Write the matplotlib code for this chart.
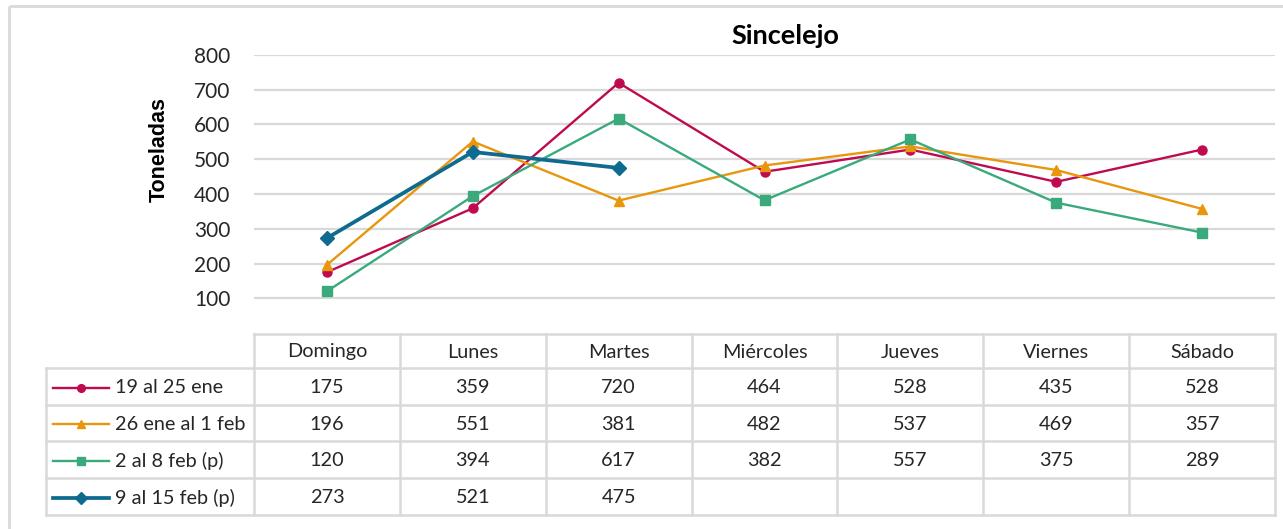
import numpy as np
import matplotlib
matplotlib.use("Agg")
import matplotlib.pyplot as plt
from matplotlib.lines import Line2D

# ---------------- data ----------------
days = ["Domingo", "Lunes", "Martes", "Miércoles", "Jueves", "Viernes", "Sábado"]
series_names = ["19 al 25 ene", "26 ene al 1 feb", "2 al 8 feb (p)", "9 al 15 feb (p)"]
s1 = [175, 359, 720, 464, 528, 435, 528]
s2 = [196, 551, 381, 482, 537, 469, 357]
s3 = [120, 394, 617, 382, 557, 375, 289]
s4 = [273, 521, 475, None, None, None, None]
yticks = [100, 200, 300, 400, 500, 600, 700, 800]
title = "Sincelejo"
ylabel = "Toneladas"

# ---------------- styles ----------------
colors = ["#C00A50", "#E8960C", "#3AAA7C", "#0E6A8E"]
markers = ["o", "^", "s", "D"]
msizes = [6.5, 7.5, 6.5, 7]
lws = [1.7, 1.7, 1.7, 2.7]
grid_c = "#D9D9D9"
txt_c = "#262626"
FONT = "Lato"

W, H = 1283, 529
fig = plt.figure(figsize=(W / 100, H / 100), dpi=100)

def fx(px):
    return px / W

def fy(py):
    return 1 - py / H

# plot area in pixels
L, R, T, B = 254, 1275, 55, 333
ax = fig.add_axes([fx(L), fy(B), fx(R) - fx(L), fy(T) - fy(B)])
ax.set_xlim(-0.5, len(days) - 0.5)
ax.set_ylim(0, 800)
ax.set_yticks(yticks)
ax.set_xticks([])
for s in ax.spines.values():
    s.set_visible(False)
ax.tick_params(axis="y", length=0, pad=17, labelsize=15, labelcolor=txt_c)
for lab in ax.get_yticklabels():
    lab.set_fontfamily(FONT)
for t in yticks:
    ax.axhline(t, color=grid_c, lw=1.6, zorder=0)

x = np.arange(len(days))
all_series = [s1, s2, s3, s4]
for vals, c, m, ms, lw in zip(all_series, colors, markers, msizes, lws):
    y = np.array([np.nan if v is None else v for v in vals], dtype=float)
    ax.plot(x, y, color=c, lw=lw, marker=m, markersize=ms,
            markerfacecolor=c, markeredgecolor=c, zorder=3, clip_on=False)

# title and y-label
fig.text(fx(785), fy(36), title, ha="center", va="center", fontsize=19.5,
         fontweight="bold", family=FONT, color="black")
fig.text(fx(159), fy(150), ylabel, ha="center", va="center", rotation=90,
         fontsize=15.5, fontweight="bold", family="Liberation Sans", color="black")

# ---------------- overlay for table & frame ----------------
ov = fig.add_axes([0, 0, 1, 1], zorder=-1)
ov.set_xlim(0, W)
ov.set_ylim(H, 0)
ov.axis("off")
ov2 = fig.add_axes([0, 0, 1, 1], zorder=5)
ov2.set_xlim(0, W)
ov2.set_ylim(H, 0)
ov2.axis("off")
ov2.patch.set_alpha(0)

# outer chart frame (cropped)
ov.plot([9, W + 5], [6, 6], color=grid_c, lw=2, solid_capstyle="butt")
ov.plot([9, 9], [6, H + 5], color=grid_c, lw=2, solid_capstyle="butt")

colw = (R - L) / len(days)
leg_left = 46
row_edges = [334, 368, 405, 441, 478, 515]
tcol = "#D9D9D9"
tlw = 1.8

# header row
ov2.plot([L, R], [row_edges[0], row_edges[0]], color=tcol, lw=tlw)
for i in range(len(days) + 1):
    xx = L + i * colw
    ov2.plot([xx, xx], [row_edges[0], row_edges[-1]], color=tcol, lw=tlw)
for r in range(1, len(row_edges)):
    ov2.plot([leg_left, R], [row_edges[r], row_edges[r]], color=tcol, lw=tlw)
ov2.plot([leg_left, leg_left], [row_edges[1], row_edges[-1]], color=tcol, lw=tlw)

tfs = 14.3
for i, d in enumerate(days):
    ov2.text(L + (i + 0.5) * colw, (row_edges[0] + row_edges[1]) / 2 + 1, d,
             ha="center", va="center", fontsize=tfs, family=FONT, color=txt_c)

for r, (name, vals, c, m, ms, lw) in enumerate(zip(series_names, all_series, colors,
                                                   markers, msizes, lws)):
    yc = (row_edges[r + 1] + row_edges[r + 2]) / 2 + 1
    ov2.add_line(Line2D([53, 109], [yc, yc], color=c, lw=lw))
    ov2.add_line(Line2D([81], [yc], marker=m, markersize=ms * 0.85, color=c,
                        markerfacecolor=c, markeredgecolor=c, lw=0))
    ov2.text(115, yc, name, ha="left", va="center", fontsize=tfs, family=FONT,
             color=txt_c)
    for i, v in enumerate(vals):
        if v is not None:
            ov2.text(L + (i + 0.5) * colw, yc, str(v), ha="center", va="center",
                     fontsize=tfs, family=FONT, color=txt_c)

fig.savefig("out.png", dpi=100, facecolor="white")
